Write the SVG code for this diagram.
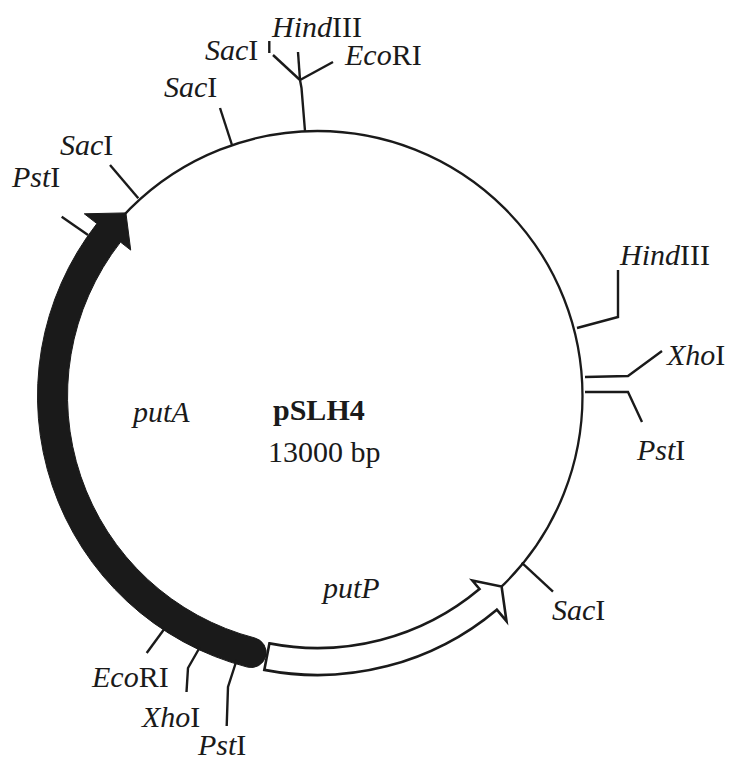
<svg xmlns="http://www.w3.org/2000/svg" width="731" height="763" viewBox="0 0 731 763">
  <style>
    .lbl { font-family: "Liberation Serif", "Times New Roman", serif; font-size: 30px; fill: #1a1a1a; }
    .it { font-style: italic; }
    .tick { fill: none; stroke: #1a1a1a; stroke-width: 2.4; stroke-linecap: butt; stroke-linejoin: miter; }
    .ring { fill: none; stroke: #1a1a1a; stroke-width: 2.3; }
  </style>
  <rect width="731" height="763" fill="#ffffff"/>

  <!-- plasmid backbone: centre (317.5, 396), radius 265 -->
  <g id="backbone">
    <circle class="ring" cx="317.5" cy="396" r="265"/>
  </g>

  <!-- putA: filled arc running clockwise up the left side, round tail at the bottom -->
  <g id="putA">
    <path d="M247.4,667.1 A280,280 0 0 1 96.9,223.6 L84.3,213.8 L125.9,212.9 L130.7,250.1 L120.5,242.1 A250,250 0 0 0 254.9,638.0 A15,15 0 0 1 247.4,667.1 Z" fill="#1a1a1a" stroke="#1a1a1a" stroke-width="1"/>
    <text class="lbl it" x="133" y="422">putA</text>
  </g>

  <!-- putP: open arc running counter-clockwise along the bottom right -->
  <g id="putP">
    <path d="M264.3,669.9 A279,279 0 0 0 496.8,609.7 L506.5,621.2 L501.6,586.6 L472.4,580.6 L479.5,589.0 A252,252 0 0 1 269.4,643.4 Z" fill="#ffffff" stroke="#1a1a1a" stroke-width="2.6" stroke-linejoin="miter"/>
    <text class="lbl it" x="323" y="598">putP</text>
  </g>

  <g id="title">
    <text class="lbl" x="273" y="420" font-weight="bold">pSLH4</text>
    <text class="lbl" x="268" y="462">13000 bp</text>
  </g>

  <!-- site markers joining each label to the backbone -->
  <g id="connectors">
    <polyline class="tick" points="305,131 301.5,88 300,80"/>
    <line class="tick" x1="300" y1="80" x2="273" y2="55"/>
    <line class="tick" x1="300" y1="80" x2="298" y2="52"/>
    <line class="tick" x1="300" y1="80" x2="333" y2="62"/>
    <line class="tick" x1="269.3" y1="41" x2="269.3" y2="53" stroke-width="1.6"/>
    <line class="tick" x1="232" y1="145" x2="220" y2="108"/>
    <line class="tick" x1="138.3" y1="198.3" x2="110" y2="165"/>
    <line class="tick" x1="88" y1="235" x2="61.7" y2="216.7"/>
    <polyline class="tick" points="577,328 618,317 618,270"/>
    <polyline class="tick" points="585,377 628,376 662,351"/>
    <polyline class="tick" points="585,392 628,392 642,422"/>
    <line class="tick" x1="521.7" y1="562.7" x2="553" y2="591.7"/>
    <line class="tick" x1="165" y1="628" x2="146.7" y2="653"/>
    <polyline class="tick" points="200,647 188,668 186.5,692"/>
    <polyline class="tick" points="236.7,660 228,687 226.7,726"/>
  </g>

  <g id="site-hindIII-top"><text class="lbl" x="272" y="37"><tspan class="it">Hind</tspan>III</text></g>
  <g id="site-sacI-top"><text class="lbl" x="205" y="60"><tspan class="it">Sac</tspan>I</text></g>
  <g id="site-ecoRI-top"><text class="lbl" x="345" y="65"><tspan class="it">Eco</tspan>RI</text></g>
  <g id="site-sacI-2"><text class="lbl" x="164" y="97"><tspan class="it">Sac</tspan>I</text></g>
  <g id="site-sacI-3"><text class="lbl" x="60" y="155"><tspan class="it">Sac</tspan>I</text></g>
  <g id="site-pstI-left"><text class="lbl" x="12" y="187"><tspan class="it">Pst</tspan>I</text></g>
  <g id="site-hindIII-right"><text class="lbl" x="620" y="265"><tspan class="it">Hind</tspan>III</text></g>
  <g id="site-xhoI-right"><text class="lbl" x="667" y="365"><tspan class="it">Xho</tspan>I</text></g>
  <g id="site-pstI-right"><text class="lbl" x="637" y="460"><tspan class="it">Pst</tspan>I</text></g>
  <g id="site-sacI-right"><text class="lbl" x="552" y="620"><tspan class="it">Sac</tspan>I</text></g>
  <g id="site-ecoRI-bottom"><text class="lbl" x="92" y="687"><tspan class="it">Eco</tspan>RI</text></g>
  <g id="site-xhoI-bottom"><text class="lbl" x="142" y="727"><tspan class="it">Xho</tspan>I</text></g>
  <g id="site-pstI-bottom"><text class="lbl" x="198" y="755"><tspan class="it">Pst</tspan>I</text></g>
</svg>
